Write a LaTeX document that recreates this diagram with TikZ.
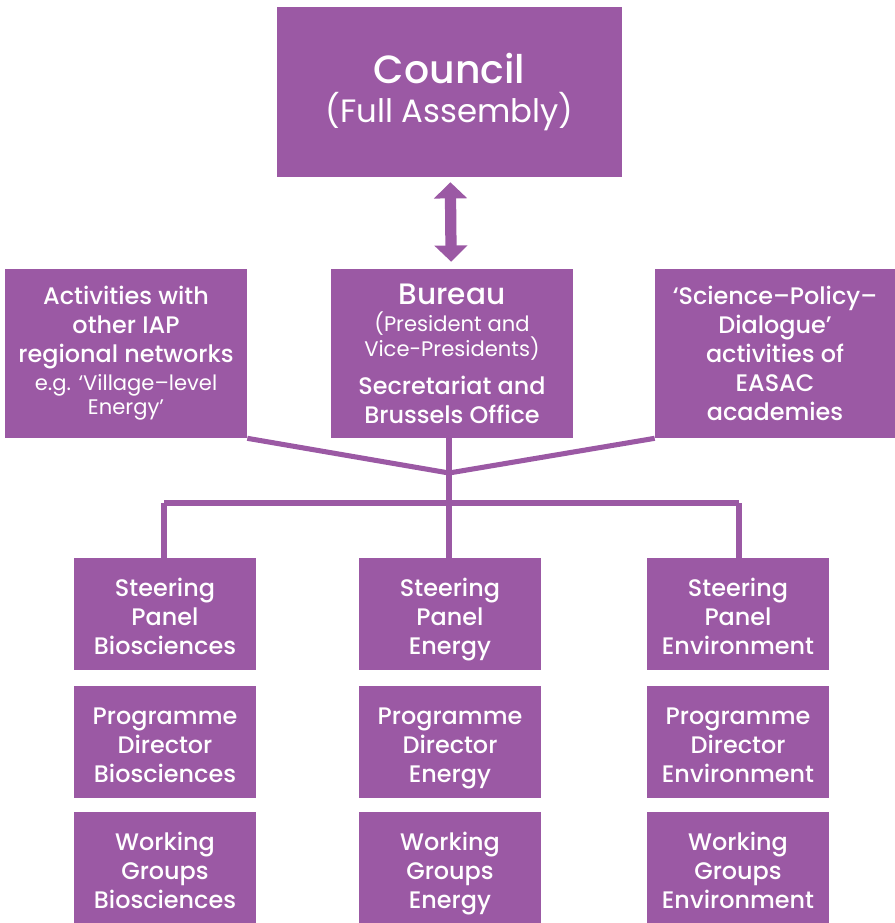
\documentclass[tikz,border=0pt]{standalone}
\usepackage{fontspec}
\setmainfont{Poppins}[BoldFont={Poppins Medium}]
\usetikzlibrary{arrows.meta}
\definecolor{easac}{RGB}{155,89,164}
\newcommand\subline[1]{{\fontsize{15}{18}\mdseries\selectfont #1}}

\begin{document}
\begin{tikzpicture}[x=0.025cm,y=-0.025cm,
  box/.style={fill=easac,text=white,inner sep=0pt,align=center,
    font=\fontsize{17}{20.6}\bfseries\selectfont},
  topbox/.style={box,minimum width=6.05cm,minimum height=4.225cm},
  panel/.style={box,minimum width=4.55cm,minimum height=2.78cm,
    text height=63pt,text depth=6pt},
  link/.style={draw=easac,line width=3.6pt},
  dblarrow/.style={draw=easac,line width=8pt,
    {Triangle[length=11.5pt,width=23pt]}-{Triangle[length=11.5pt,width=23pt]},
    shorten <=3.5pt,shorten >=5pt}]
\useasboundingbox (0,0) rectangle (895,923);

\node[box,minimum width=8.625cm,minimum height=4.25cm] (council) at (449.5,92)
  {{\fontsize{28}{32}\selectfont Council}\\[5pt]
   {\fontsize{23}{26}\mdseries\selectfont (Full Assembly)}};

\node[topbox] (bureau) at (452,353.5)
  {{\fontsize{21}{24}\selectfont Bureau}\\[-1pt]
   \subline{(President and}\\[-3pt]
   \subline{Vice-Presidents)}\\[6pt]
   Secretariat and\\
   Brussels Office};
\node[topbox] (iap) at (126,353.5)
  {Activities with\\
   other IAP\\
   regional networks\\[-1pt]
   \subline{e.g. ‘Village–level}\\[-3pt]
   \subline{Energy’}};
\node[box,minimum width=6cm,minimum height=4.225cm] (spd) at (775,353.5)
  {‘Science–Policy–\\
   Dialogue’\\
   activities of\\
   EASAC\\
   academies};

\draw[dblarrow] (council) -- (bureau);

% tree below the bureau
\coordinate (join) at (449,473);
\coordinate (bar) at (449,503);
\draw[link] (iap.south east) -- (join);
\draw[link] (spd.south west) -- (join);
\draw[link] (bureau.south -| join) -- (bar);
\draw[link] (164,503) -- (739,503);

\node[panel] (spbio) at (165,614) {Steering\\Panel\\Biosciences};
\node[panel] (spene) at (450,614) {Steering\\Panel\\Energy};
\node[panel] (spenv) at (738,614) {Steering\\Panel\\Environment};
\node[panel] (pdbio) at (165,742) {Programme\\Director\\Biosciences};
\node[panel] (pdene) at (450,742) {Programme\\Director\\Energy};
\node[panel] (pdenv) at (738,742) {Programme\\Director\\Environment};
\node[panel] (wgbio) at (165,868) {Working\\Groups\\Biosciences};
\node[panel] (wgene) at (450,868) {Working\\Groups\\Energy};
\node[panel] (wgenv) at (738,868) {Working\\Groups\\Environment};

\draw[link] (164,503) -- (spbio.north -| 164,0);
\draw[link] (bar) -- (spene.north -| bar);
\draw[link] (739,503) -- (spenv.north -| 739,0);
\end{tikzpicture}
\end{document}
